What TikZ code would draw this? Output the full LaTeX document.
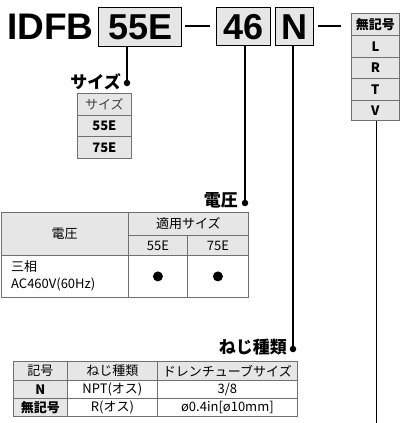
\documentclass[tikz,border=0pt]{standalone}
\usepackage{fontspec}
\setmainfont{Liberation Sans}
\newfontfamily\jp{Noto Sans CJK JP}
\definecolor{cellgray}{HTML}{E6E6E6}
\definecolor{bordergray}{HTML}{707070}
\begin{document}
\begin{tikzpicture}[x=1pt,y=-1pt,
  cell/.style={draw=bordergray, line width=0.8pt, inner sep=0pt, anchor=north west, align=center, font=\jp\fontsize{13}{15}\selectfont},
  hcell/.style={cell, fill=cellgray},
  bcell/.style={hcell, font=\jp\bfseries\fontsize{13}{15}\selectfont},
  codebox/.style={draw=black, fill=cellgray, line width=1.4pt, inner sep=0pt, anchor=north west, font=\bfseries\fontsize{36}{36}\selectfont},
  lbl/.style={font=\jp\bfseries\fontsize{17}{17}\selectfont, anchor=east, inner sep=0pt},
  dotmark/.style={circle, fill=black, inner sep=0pt, minimum size=6.5pt},
  bigdot/.style={circle, fill=black, inner sep=0pt, minimum size=10pt},
  lead/.style={line width=1.3pt},
  dashline/.style={line width=2pt}
]
\useasboundingbox (0,0) rectangle (400,423);
\newcommand{\cellbox}[7]{\node[#6, minimum width=#4pt, minimum height=#5pt] (#1) at (#2,#3) {#7};}

% title row
\node[anchor=base west, inner sep=0pt, font=\bfseries\fontsize{37}{37}\selectfont] (idfb) at (7,39) {IDFB};
\node[codebox, minimum width=83pt, minimum height=39pt] (b55) at (98,7) {55E};
\coordinate (d1a) at (185,25.5); \coordinate (d1b) at (210,25.5);
\draw[dashline] (d1a) -- (d1b);
\node[codebox, minimum width=54pt, minimum height=38pt] (b46) at (216,7) {46};
\node[codebox, minimum width=38pt, minimum height=38pt] (bN) at (275,7) {N};
\coordinate (d2a) at (318,25.5); \coordinate (d2b) at (341,25.5);
\draw[dashline] (d2a) -- (d2b);

% right option table
\cellbox{r0}{351}{13}{48}{22}{bcell}{無記号}
\cellbox{r1}{351}{35}{48}{22}{bcell}{L}
\cellbox{r2}{351}{57}{48}{21}{bcell}{R}
\cellbox{r3}{351}{78}{48}{22}{bcell}{T}
\cellbox{r4}{351}{100}{48}{20}{bcell}{V}
\coordinate (rend) at (377,423);
\draw[lead] (r4.south) ++(1,0) coordinate (rtop) -- (rtop |- rend);

% size
\node[dotmark] (dsize) at (127,83) {};
\draw[lead] (b55.south -| dsize) -- (dsize);
\node[lbl] (lsize) at (121,82) {サイズ};
\cellbox{s0}{77}{93}{54}{22}{hcell}{\color{black!75}サイズ}
\cellbox{s1}{77}{115}{54}{21}{bcell}{55E}
\cellbox{s2}{77}{136}{54}{22}{bcell}{75E}

% voltage
\node[dotmark] (dvolt) at (245,203) {};
\draw[lead] (b46.south -| dvolt) -- (dvolt);
\node[lbl] (lvolt) at (238,200) {電圧};
\cellbox{v0}{0.5}{212}{127.5}{43}{hcell}{電圧}
\cellbox{v1}{128}{212}{120}{23}{hcell}{適用サイズ}
\cellbox{v2}{128}{235}{59}{20}{hcell}{55E}
\cellbox{v3}{187}{235}{61}{20}{hcell}{75E}
\cellbox{v4}{0.5}{255}{127.5}{42}{cell}{}
\node[anchor=west, inner sep=0pt, align=left, font=\jp\fontsize{13}{17}\selectfont] (v4t) at (11,276) {三相\\AC460V(60Hz)};
\cellbox{v5}{128}{255}{59}{42}{cell}{}
\cellbox{v6}{187}{255}{61}{42}{cell}{}
\node[bigdot] (v5d) at (v5.center) {};
\node[bigdot] (v6d) at (v6.center) {};

% thread
\node[dotmark] (dthr) at (293,349) {};
\draw[lead] (bN.south -| dthr) -- (dthr);
\node[lbl] (lthr) at (287,347) {ねじ種類};
\cellbox{t0}{13}{361}{54}{19}{hcell}{記号}
\cellbox{t1}{67}{361}{90}{19}{hcell}{ねじ種類}
\cellbox{t2}{157}{361}{140}{19}{hcell}{ドレンチューブサイズ}
\cellbox{t3}{13}{380}{54}{18}{bcell}{N}
\cellbox{t4}{67}{380}{90}{18}{cell}{NPT(オス)}
\cellbox{t5}{157}{380}{140}{18}{cell}{3/8}
\cellbox{t6}{13}{398}{54}{18}{bcell}{無記号}
\cellbox{t7}{67}{398}{90}{18}{cell}{R(オス)}
\cellbox{t8}{157}{398}{140}{18}{cell}{ø0.4in[ø10mm]}
\end{tikzpicture}
\end{document}
